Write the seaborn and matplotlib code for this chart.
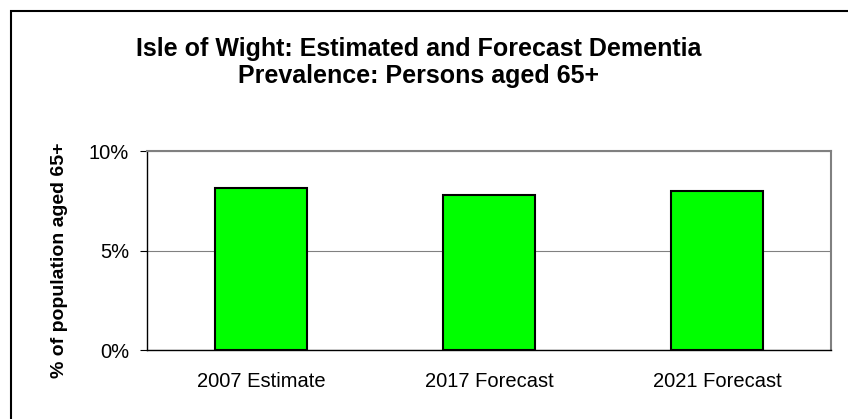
import matplotlib
matplotlib.use("Agg")
import matplotlib.pyplot as plt
import matplotlib.ticker as mticker
from matplotlib.patches import Rectangle
import pandas as pd
import seaborn as sns

# Data
categories = ["2007 Estimate", "2017 Forecast", "2021 Forecast"]
prevalence = [8.15, 7.77, 8.0]   # % of population aged 65+

sns.set_style("white")
plt.rcParams.update({
    "font.family": ["Liberation Sans", "DejaVu Sans"],
    "text.color": "black",
    "axes.labelcolor": "black",
    "xtick.color": "black",
    "ytick.color": "black",
})

df = pd.DataFrame({"category": categories, "prevalence": prevalence})

fig = plt.figure(figsize=(8.48, 4.19), dpi=100)
ax = fig.add_axes([147 / 848, 1 - 350 / 419, (831 - 147) / 848, (350 - 151) / 419])

sns.barplot(
    data=df, x="category", y="prevalence", ax=ax,
    color="#00FF00", saturation=1, width=0.4,
    edgecolor="black", linewidth=1.5, zorder=3,
)

ax.set_ylim(0, 10)
ax.set_xlim(-0.5, len(categories) - 0.5)
ax.yaxis.set_major_locator(mticker.MultipleLocator(5))
ax.yaxis.set_major_formatter(mticker.FuncFormatter(lambda v, _: f"{v:.0f}%"))
ax.grid(axis="y", color="#808080", linewidth=0.8, zorder=0)
ax.set_axisbelow(True)

# Excel-style ticks at category boundaries
ax.set_xticks(range(len(categories)))
ax.set_xticklabels(categories)
ax.set_xticks([i - 0.5 for i in range(len(categories) + 1)], minor=True)
ax.tick_params(axis="x", which="major", length=0, pad=16, labelsize=14.5)
ax.tick_params(axis="x", which="minor", length=5, width=0.8, color="#808080", direction="out")
ax.tick_params(axis="y", which="major", left=True, length=5, width=0.8, color="black",
               direction="out", labelsize=14.5, pad=8)

for side in ["top", "right"]:
    ax.spines[side].set_visible(True)
    ax.spines[side].set_color("#808080")
    ax.spines[side].set_linewidth(1.5)
for side in ["left", "bottom"]:
    ax.spines[side].set_color("black")
    ax.spines[side].set_linewidth(1.0)

ax.set_xlabel("")
ax.set_ylabel("% of population aged 65+", fontsize=14, fontweight="bold")
ax.yaxis.set_label_coords((68 - 147) / 684, 0.45)

fig.text(0.494, 0.85, "Isle of Wight: Estimated and Forecast Dementia\nPrevalence: Persons aged 65+",
         ha="center", va="center", fontsize=18, fontweight="bold", linespacing=1.17)

# chart-area border (right/bottom edges fall outside the picture)
fig.patches.append(Rectangle((11 / 848, -0.05), 1.2, 1 - 11 / 419 + 0.05,
                             transform=fig.transFigure, fill=False,
                             edgecolor="black", linewidth=1.5))

fig.savefig("out.png", dpi=100)
plt.close(fig)
